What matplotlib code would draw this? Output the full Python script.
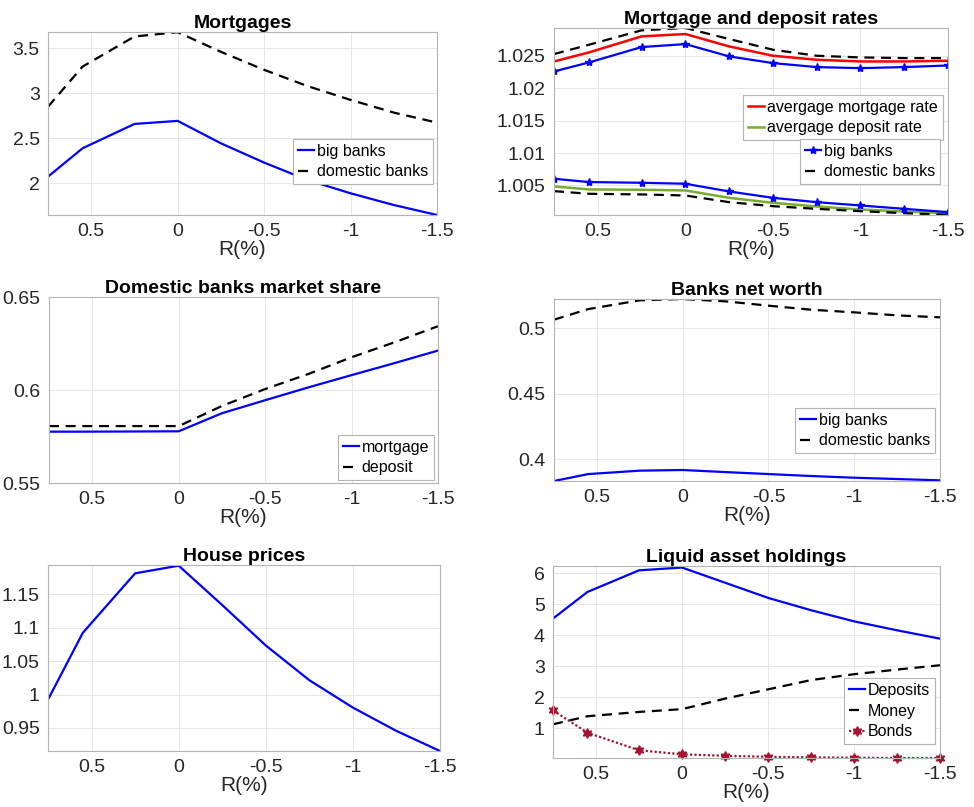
import matplotlib
matplotlib.use("Agg")
import matplotlib.pyplot as plt

plt.rcParams["font.family"] = ["Liberation Sans", "DejaVu Sans"]

# policy rate grid (R in %), shared by all panels
r = [0.75, 0.55, 0.25, 0.0, -0.25, -0.5, -0.75, -1.0, -1.25, -1.5]

mort_big = [2.074, 2.389, 2.659, 2.693, 2.444, 2.230, 2.037, 1.889, 1.759, 1.648]
mort_dom = [2.850, 3.296, 3.630, 3.678, 3.460, 3.260, 3.080, 2.926, 2.785, 2.674]

rm_big = [1.02258, 1.02397, 1.02634, 1.02680, 1.02490, 1.02387, 1.02325, 1.02309, 1.02325, 1.02350]
rm_avg = [1.02412, 1.02552, 1.02799, 1.02835, 1.02644, 1.02500, 1.02438, 1.02412, 1.02412, 1.02423]
rm_dom = [1.02526, 1.02670, 1.02892, 1.02928, 1.02758, 1.02593, 1.02500, 1.02474, 1.02464, 1.02464]
rd_big = [1.00603, 1.00552, 1.00541, 1.00526, 1.00407, 1.00309, 1.00242, 1.00191, 1.00139, 1.00088]
rd_avg = [1.00485, 1.00438, 1.00433, 1.00423, 1.00309, 1.00232, 1.00175, 1.00129, 1.00098, 1.00072]
rd_dom = [1.00412, 1.00371, 1.00361, 1.00345, 1.00242, 1.00180, 1.00139, 1.00103, 1.00072, 1.00046]

share_mort = [0.5776, 0.5776, 0.5777, 0.5778, 0.5875, 0.5945, 0.6014, 0.6080, 0.6145, 0.6212]
share_dep = [0.5806, 0.5806, 0.5806, 0.5806, 0.5914, 0.6005, 0.6086, 0.6176, 0.6257, 0.6343]

nw_big = [0.3832, 0.3885, 0.3911, 0.3916, 0.3900, 0.3885, 0.3870, 0.3857, 0.3847, 0.3837]
nw_dom = [0.5064, 0.5145, 0.5212, 0.5222, 0.5204, 0.5171, 0.5140, 0.5120, 0.5097, 0.5082]

house = [0.9925, 1.0925, 1.1815, 1.1930, 1.1340, 1.0735, 1.0215, 0.9805, 0.9455, 0.9155]

deposits = [4.54, 5.40, 6.10, 6.19, 5.70, 5.21, 4.81, 4.45, 4.16, 3.89]
money = [1.12, 1.38, 1.52, 1.61, 1.95, 2.25, 2.55, 2.74, 2.89, 3.03]
bonds = [1.57, 0.85, 0.28, 0.15, 0.10, 0.07, 0.05, 0.04, 0.03, 0.03]

BLUE = "#0000ff"
RED = "#ff0000"
GREEN = "#77ac30"
DRED = "#a2142f"
BOX = "#b4b4b4"
DASH = (0, (4.5, 3))

W, H = 974, 807


def make_ax(fig, x0, y0, x1, y1):
    # pixel box (top-left origin) -> figure fraction
    ax = fig.add_axes([x0 / W, 1 - y1 / H, (x1 - x0) / W, (y1 - y0) / H])
    for s in ax.spines.values():
        s.set_color(BOX)
        s.set_linewidth(0.8)
    ax.tick_params(length=0, labelsize=14, colors="#262626", pad=6)
    ax.grid(True, color="#e6e6e6", lw=0.7)
    ax.set_axisbelow(True)
    ax.set_xlim(0.75, -1.5)
    ax.set_xticks([0.5, 0, -0.5, -1, -1.5])
    ax.set_xticklabels(["0.5", "0", "-0.5", "-1", "-1.5"])
    ax.set_xlabel("R(%)", fontsize=15, color="#262626", labelpad=0)
    return ax


def title(ax, s):
    ax.set_title(s, fontsize=14, fontweight="bold", pad=3)


def leg(ax, handles, labels, anchor):
    lg = ax.legend(handles, labels, loc="lower right", bbox_to_anchor=anchor,
                   fontsize=11.5, handlelength=1.0, handletextpad=0.2,
                   borderpad=0.3, labelspacing=0.35, borderaxespad=0,
                   fancybox=False, framealpha=1)
    lg.get_frame().set_edgecolor(BOX)
    lg.get_frame().set_linewidth(0.8)
    return lg


fig = plt.figure(figsize=(W / 100, H / 100), dpi=100)

# Mortgages
ax = make_ax(fig, 48, 32, 437, 215)
a, = ax.plot(r, mort_big, color=BLUE, lw=1.6)
b, = ax.plot(r, mort_dom, color="k", lw=1.6, ls=DASH)
ax.set_ylim(1.648, 3.68)
ax.set_yticks([2, 2.5, 3, 3.5])
ax.set_yticklabels(["2", "2.5", "3", "3.5"])
title(ax, "Mortgages")
leg(ax, [a, b], ["big banks", "domestic banks"], (0.99, 0.17))

# Mortgage and deposit rates
ax = make_ax(fig, 554, 28, 948, 215)
m1, = ax.plot(r, rm_avg, color=RED, lw=1.8)
ax.plot(r, rm_dom, color="k", lw=1.6, ls=DASH)
b1, = ax.plot(r, rm_big, color=BLUE, lw=1.6, marker="*", ms=6)
d1, = ax.plot(r, rd_avg, color=GREEN, lw=1.8)
ax.plot(r, rd_dom, color="k", lw=1.6, ls=DASH)
ax.plot(r, rd_big, color=BLUE, lw=1.6, marker="*", ms=6)
k1, = ax.plot([], [], color="k", lw=1.6, ls=DASH)
ax.set_ylim(1.00044, 1.02928)
ax.set_yticks([1.005, 1.01, 1.015, 1.02, 1.025])
ax.set_yticklabels(["1.005", "1.01", "1.015", "1.02", "1.025"])
title(ax, "Mortgage and deposit rates")
l1 = leg(ax, [m1, d1], ["avergage mortgage rate", "avergage deposit rate"], (0.987, 0.40))
ax.add_artist(l1)
leg(ax, [b1, k1], ["big banks", "domestic banks"], (0.98, 0.165))

# Domestic banks market share
ax = make_ax(fig, 49, 297, 438, 483)
a, = ax.plot(r, share_mort, color=BLUE, lw=1.6)
b, = ax.plot(r, share_dep, color="k", lw=1.6, ls=DASH)
ax.set_ylim(0.55, 0.65)
ax.set_yticks([0.55, 0.6, 0.65])
ax.set_yticklabels(["0.55", "0.6", "0.65"])
title(ax, "Domestic banks market share")
leg(ax, [a, b], ["mortgage", "deposit"], (0.99, 0.016))

# Banks net worth
ax = make_ax(fig, 554, 299, 940, 481)
a, = ax.plot(r, nw_big, color=BLUE, lw=1.6)
b, = ax.plot(r, nw_dom, color="k", lw=1.6, ls=DASH)
ax.set_ylim(0.3832, 0.5222)
ax.set_yticks([0.4, 0.45, 0.5])
ax.set_yticklabels(["0.4", "0.45", "0.5"])
title(ax, "Banks net worth")
leg(ax, [a, b], ["big banks", "domestic banks"], (0.987, 0.154))

# House prices
ax = make_ax(fig, 48, 565, 440, 751)
ax.plot(r, house, color=BLUE, lw=1.6)
ax.set_ylim(0.9155, 1.194)
ax.set_yticks([0.95, 1, 1.05, 1.1, 1.15])
ax.set_yticklabels(["0.95", "1", "1.05", "1.1", "1.15"])
title(ax, "House prices")

# Liquid asset holdings
ax = make_ax(fig, 553, 566, 940, 758)
a, = ax.plot(r, deposits, color=BLUE, lw=1.6)
b, = ax.plot(r, money, color="k", lw=1.6, ls=DASH)
c, = ax.plot(r, bonds, color=DRED, lw=1.6, ls=(0, (1, 1)),
             marker=(6, 1, 0), ms=7, clip_on=False)
ax.set_ylim(0.03, 6.24)
ax.set_yticks([1, 2, 3, 4, 5, 6])
title(ax, "Liquid asset holdings")
leg(ax, [a, b, c], ["Deposits", "Money", "Bonds"], (0.987, 0.073))

fig.savefig("out.png", dpi=100)
